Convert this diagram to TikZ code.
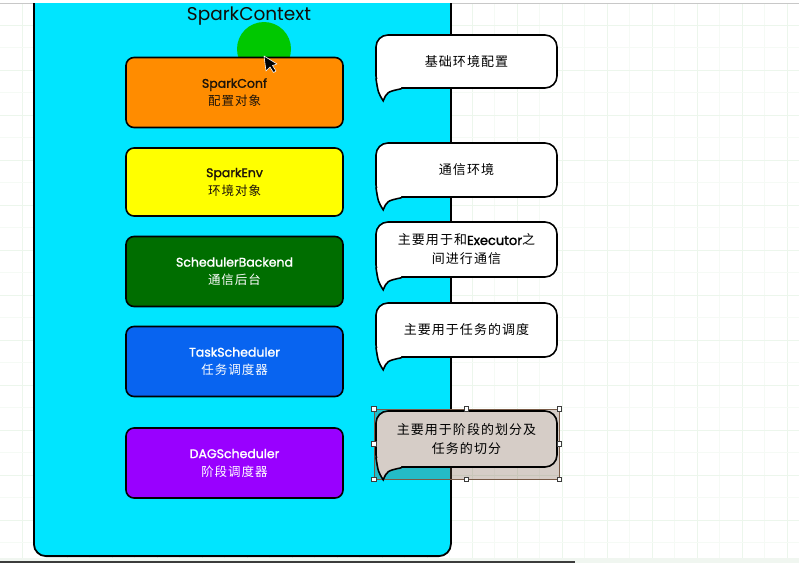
\documentclass[tikz,border=0pt]{standalone}
\usepackage{fontspec}
\setmainfont{Poppins}
\newfontfamily\cjk[LetterSpace=8]{Noto Sans CJK SC}
\newfontfamily\lat[FakeBold=1.6]{Poppins}
\usetikzlibrary{calc}
\definecolor{ctxcyan}{RGB}{0,229,255}
\definecolor{dotgreen}{RGB}{0,200,0}
\definecolor{confor}{RGB}{255,140,0}
\definecolor{envyel}{RGB}{255,255,0}
\definecolor{backgr}{RGB}{0,110,0}
\definecolor{taskbl}{RGB}{8,100,240}
\definecolor{dagpur}{RGB}{153,0,255}
\definecolor{gridmaj}{RGB}{236,246,236}
\definecolor{gridmin}{RGB}{245,250,245}
\definecolor{beige}{RGB}{214,205,199}
\definecolor{selbrown}{RGB}{120,90,70}
\definecolor{darktxt}{RGB}{30,20,10}
\definecolor{edgegray}{RGB}{200,200,200}
\definecolor{barDark}{RGB}{60,60,60}
\definecolor{barLight}{RGB}{240,246,240}
\tikzset{
  comp/.style={draw=black, line width=1.6pt, rounded corners=8pt, minimum width=217pt,
    minimum height=70pt, align=center, inner sep=0pt, font=\fontsize{12.5}{18}\selectfont},
  bub/.style={draw=black, line width=1.6pt, rounded corners=12pt, fill=white, minimum width=181pt,
    align=center, inner sep=0pt, font=\fontsize{13}{19}\selectfont},
  handle/.style={draw=barDark, line width=0.6pt, fill=white, minimum size=4.5pt, inner sep=0pt},
}
\newcommand\bubtail[2]{%
  \fill[#2] ($(#1.south west)+(1.2,-10)$) .. controls ($(#1.south west)+(3,4)$) .. ($(#1.south west)+(8,12)$)
     .. controls ($(#1.south west)+(12,3)$) .. ($(#1.south west)+(26,0.8)$) -- ($(#1.south west)+(26,-3)$)
     -- ($(#1.south west)+(3,-10)$) -- cycle;
  \draw[line width=1.6pt, line cap=round] ($(#1.south west)+(0.8,-10)$) .. controls ($(#1.south west)+(3,4)$)
     .. ($(#1.south west)+(8,12)$) .. controls ($(#1.south west)+(12,3)$) .. ($(#1.south west)+(26,0)$);}
\begin{document}
\begin{tikzpicture}[x=1pt,y=-1pt]
\useasboundingbox (0,0) rectangle (799,563);
\fill[white] (0,0) rectangle (799,563);
% grid
\foreach \i in {-1,...,35} {
  \pgfmathsetmacro\gx{22+22.5*\i}
  \pgfmathtruncatemacro\ev{mod(\i+10,2)}
  \ifnum\ev=0 \draw[gridmaj, line width=1pt] (\gx,3) -- (\gx,558); \else \draw[gridmin, line width=1pt] (\gx,3) -- (\gx,558); \fi
}
\foreach \j in {-1,...,24} {
  \pgfmathsetmacro\gy{25+22.5*\j}
  \pgfmathtruncatemacro\ev{mod(\j+10,2)}
  \ifnum\ev=0 \draw[gridmaj, line width=1pt] (0,\gy) -- (799,\gy); \else \draw[gridmin, line width=1pt] (0,\gy) -- (799,\gy); \fi
}
\fill[white] (0,0) rectangle (799,3);
\draw[edgegray, line width=0.8pt] (0,3) -- (799,3);
% container
\begin{scope}
\clip (0,3.4) rectangle (799,563);
\node (ctx) [draw=black, line width=1.8pt, fill=ctxcyan, rounded corners=12pt, minimum width=417pt,
  minimum height=590pt, anchor=south west, inner sep=0pt] at (33,557) {};
\end{scope}
\node (title) at (249,16) {\fontsize{18.5}{20}\selectfont\color{darktxt!60!black}SparkContext};
\node (dot) [circle, fill=dotgreen, minimum size=54pt, inner sep=0pt] at (264,49) {};
% components
\node (conf) [comp, fill=confor, text=darktxt] at (234.5,92.5) {{\lat SparkConf}\\{\cjk 配置对象}};
\node (env) [comp, fill=envyel, text=darktxt, minimum height=68pt] at (234.5,182) {{\lat SparkEnv}\\{\cjk 环境对象}};
\node (sb) [comp, fill=backgr, text=white] at (234.5,271.5) {{\lat SchedulerBackend}\\{\cjk 通信后台}};
\node (ts) [comp, fill=taskbl, text=white] at (234.5,361.5) {{\lat TaskScheduler}\\{\cjk 任务调度器}};
\node (dag) [comp, fill=dagpur, text=white] at (234.5,463) {{\lat DAGScheduler}\\{\cjk 阶段调度器}};
% cursor
\filldraw[fill=black, draw=white, line width=0.6pt, line join=round]
  (264,56) -- (266,71) -- (270,67) -- (273.5,72.5) -- (276,71) -- (272.5,65.5) -- (277,64) -- cycle;
% bubbles
\node (b1) [bub, minimum height=53pt] at (466.5,61.5) {\cjk 基础环境配置};
\bubtail{b1}{white}
\node (b2) [bub, minimum height=54pt] at (466.5,170) {\cjk 通信环境};
\bubtail{b2}{white}
\node (b3) [bub, minimum height=55pt] at (466.5,249.5) {{\cjk 主要用于和}{\lat Executor}{\cjk 之}\\{\cjk 间进行通信}};
\bubtail{b3}{white}
\node (b4) [bub, minimum height=54pt] at (466.5,330) {\cjk 主要用于任务的调度};
\bubtail{b4}{white}
\node (sel) [draw=selbrown, line width=0.6pt, fill=selbrown, fill opacity=0.3, draw opacity=1,
  minimum width=185pt, minimum height=70pt, inner sep=0pt] at (466.5,444) {};
\node (b5) [bub, fill=beige, minimum height=56pt] at (466.5,439) {{\cjk 主要用于阶段的划分及}\\{\cjk 任务的切分}};
\bubtail{b5}{beige}
\foreach \a in {north west,north,north east,west,east,south west,south,south east}
  \node[handle] at (sel.\a) {};
% bottom bar
\fill[barLight] (0,558) rectangle (799,563);
\fill[barDark] (0,560.5) rectangle (575,563);
\end{tikzpicture}
\end{document}
